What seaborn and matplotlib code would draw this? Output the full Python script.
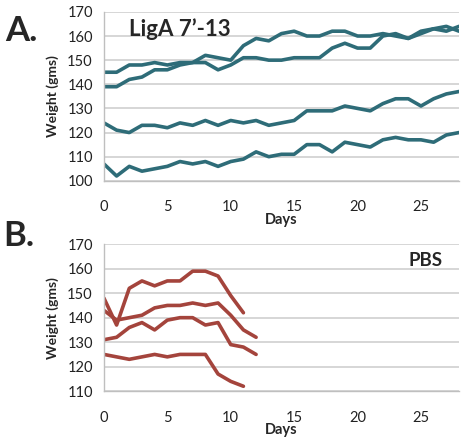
import numpy as np
import pandas as pd
import seaborn as sns
import matplotlib.pyplot as plt

# Panel A: LigA 7'-13 group, daily weights (days 0-28)
days_a = list(range(29))
liga_1 = [145, 145, 148, 148, 149, 148, 149, 149, 152, 151, 150, 156, 159, 158, 161,
          162, 160, 160, 162, 162, 160, 160, 161, 160, 159, 162, 163, 164, 162]
liga_2 = [139, 139, 142, 143, 146, 146, 148, 149, 149, 146, 148, 151, 151, 150, 150,
          151, 151, 151, 155, 157, 155, 155, 160, 161, 159, 161, 163, 162, 164]
liga_3 = [124, 121, 120, 123, 123, 122, 124, 123, 125, 123, 125, 124, 125, 123, 124,
          125, 129, 129, 129, 131, 130, 129, 132, 134, 134, 131, 134, 136, 137]
liga_4 = [107, 102, 106, 104, 105, 106, 108, 107, 108, 106, 108, 109, 112, 110, 111,
          111, 115, 115, 112, 116, 115, 114, 117, 118, 117, 117, 116, 119, 120]

# Panel B: PBS group
pbs_1 = [148, 137, 152, 155, 153, 155, 155, 159, 159, 157, 149, 142]
pbs_2 = [143, 139, 140, 141, 144, 145, 145, 146, 145, 146, 141, 135, 132]
pbs_3 = [131, 132, 136, 138, 135, 139, 140, 140, 137, 138, 129, 128, 125]
pbs_4 = [125, 124, 123, 124, 125, 124, 125, 125, 125, 117, 114, 112]

x_ticks = [0, 5, 10, 15, 20, 25]


def long_df(series):
    rows = []
    for name, vals in series.items():
        for d, v in enumerate(vals):
            rows.append({"mouse": name, "Days": d, "Weight": v})
    return pd.DataFrame(rows)


df_a = long_df({"1": liga_1, "2": liga_2, "3": liga_3, "4": liga_4})
df_b = long_df({"1": pbs_1, "2": pbs_2, "3": pbs_3, "4": pbs_4})

sns.set_theme(style="white")
plt.rcParams['font.family'] = ['Lato', 'DejaVu Sans']

teal = "#2e6c78"
brick = "#a4443c"
grid_c = "#d0d0d0"

fig = plt.figure(figsize=(4.66, 4.40), dpi=100)
ax_a = fig.add_axes([0.223, 0.589, 0.762, 0.384])
ax_b = fig.add_axes([0.223, 0.111, 0.762, 0.334])


def style(ax, ylo, yhi):
    ax.set_xlim(0, 28)
    ax.set_ylim(ylo, yhi)
    ax.set_xticks(x_ticks)
    ax.set_yticks(range(ylo, yhi + 1, 10))
    ax.yaxis.grid(True, color=grid_c, linewidth=1.2)
    ax.set_axisbelow(True)
    for s in ["top", "right"]:
        ax.spines[s].set_visible(False)
    for s in ["left", "bottom"]:
        ax.spines[s].set_color("#bfbfbf")
        ax.spines[s].set_linewidth(1.0)
    ax.tick_params(axis="both", colors="#bfbfbf", length=4, width=1,
                   labelcolor="#222222", labelsize=10.5)
    ax.tick_params(axis="x", pad=10)
    ax.tick_params(axis="y", pad=4)
    ax.set_xlabel("Days", fontweight="bold", fontsize=10.5, labelpad=-1)
    ax.set_ylabel("Weight (gms)", fontweight="bold", fontsize=10, labelpad=6)


sns.lineplot(data=df_a, x="Days", y="Weight", hue="mouse",
             palette=[teal] * 4, linewidth=2.6, legend=False, ax=ax_a)
sns.lineplot(data=df_b, x="Days", y="Weight", hue="mouse",
             palette=[brick] * 4, linewidth=2.6, legend=False, ax=ax_b)

style(ax_a, 100, 170)
style(ax_b, 110, 170)

ax_a.text(0.07, 0.96, "LigA 7\u2019-13", transform=ax_a.transAxes,
          fontsize=16, fontweight="bold", va="top", ha="left")
ax_b.text(0.905, 0.95, "PBS", transform=ax_b.transAxes,
          fontsize=13.5, fontweight="bold", va="top", ha="center")

fig.text(0.012, 0.965, "A.", fontsize=25, fontweight="bold", va="top")
fig.text(0.008, 0.50, "B.", fontsize=25, fontweight="bold", va="top")

fig.savefig("out.png", dpi=100)
